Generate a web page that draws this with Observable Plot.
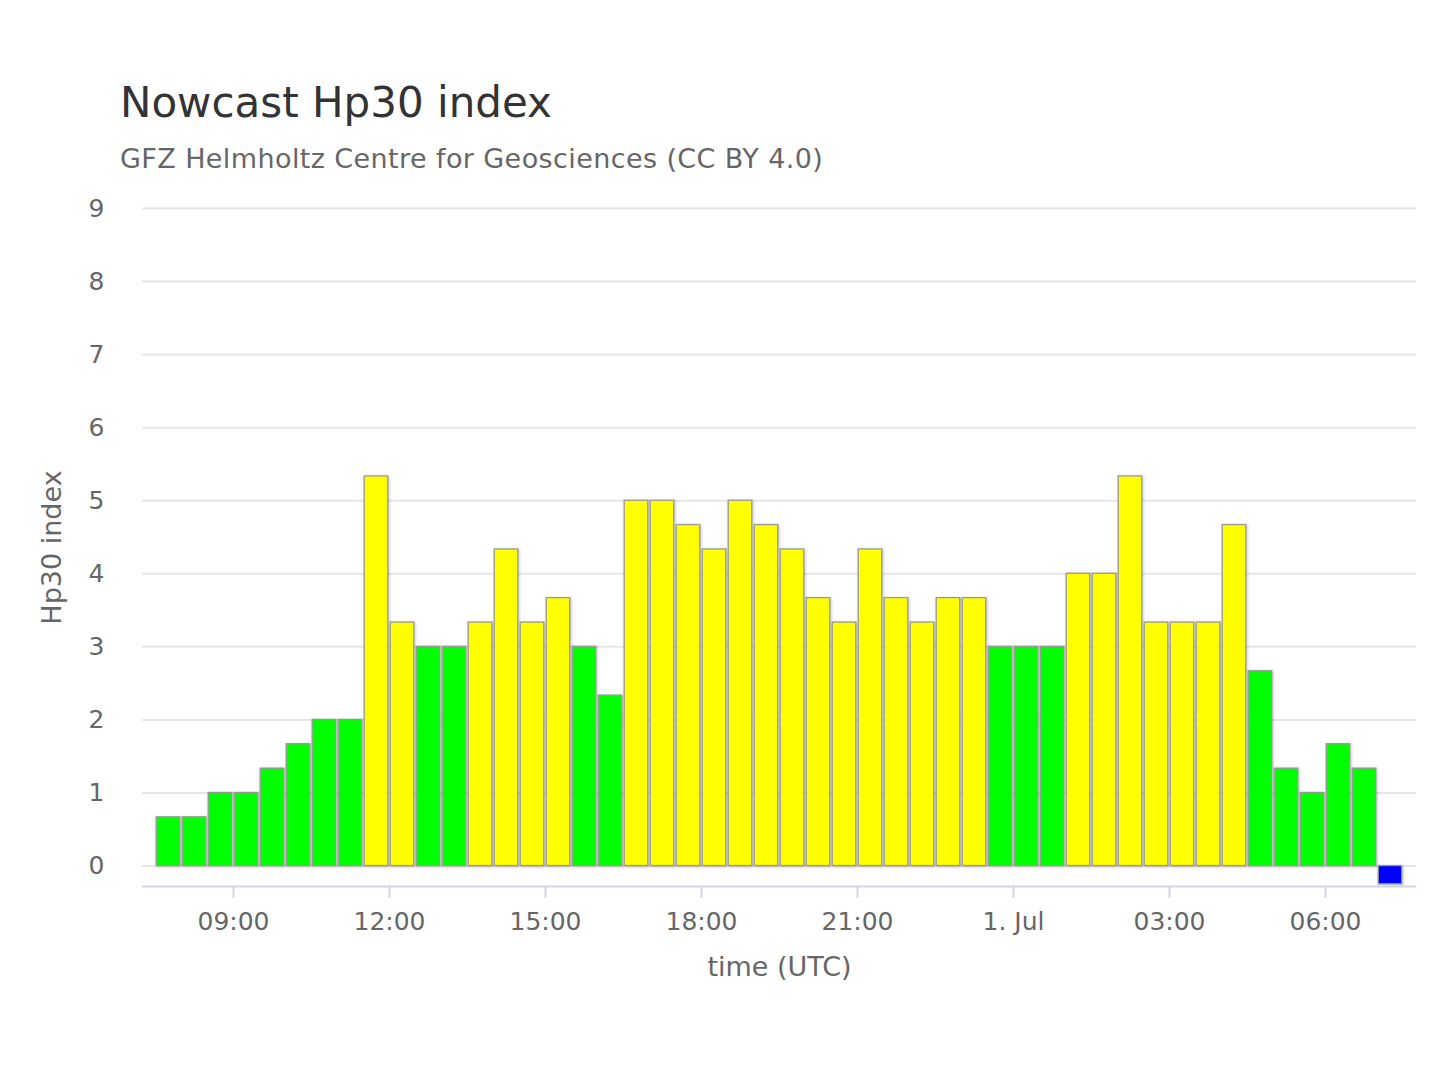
<!DOCTYPE html>
<html>
<head>
<meta charset="utf-8">
<script src="https://cdn.jsdelivr.net/npm/d3@7"></script>
<script src="https://cdn.jsdelivr.net/npm/@observablehq/plot@0.6"></script>
<style>
  html, body { margin: 0; padding: 0; background: #fff; }
  body { width: 1440px; height: 1080px; position: relative; overflow: hidden; font-family: "DejaVu Sans", sans-serif; }
  #title { position: absolute; left: 120px; top: 78px; font-size: 42px; color: #333; line-height: normal; white-space: nowrap; }
  #subtitle { position: absolute; left: 120px; top: 143px; font-size: 27px; letter-spacing: 0.4px; color: #666; line-height: normal; white-space: nowrap; }
  #chart { position: absolute; left: 0; top: 190px; }
</style>
</head>
<body>
<div id="title">Nowcast Hp30 index</div>
<div id="subtitle">GFZ Helmholtz Centre for Geosciences (CC BY 4.0)</div>
<div id="chart"></div>
<script>
// 30-minute interval start times (UTC)
const times = [
  "2024-06-30T07:30Z","2024-06-30T08:00Z","2024-06-30T08:30Z","2024-06-30T09:00Z",
  "2024-06-30T09:30Z","2024-06-30T10:00Z","2024-06-30T10:30Z","2024-06-30T11:00Z",
  "2024-06-30T11:30Z","2024-06-30T12:00Z","2024-06-30T12:30Z","2024-06-30T13:00Z",
  "2024-06-30T13:30Z","2024-06-30T14:00Z","2024-06-30T14:30Z","2024-06-30T15:00Z",
  "2024-06-30T15:30Z","2024-06-30T16:00Z","2024-06-30T16:30Z","2024-06-30T17:00Z",
  "2024-06-30T17:30Z","2024-06-30T18:00Z","2024-06-30T18:30Z","2024-06-30T19:00Z",
  "2024-06-30T19:30Z","2024-06-30T20:00Z","2024-06-30T20:30Z","2024-06-30T21:00Z",
  "2024-06-30T21:30Z","2024-06-30T22:00Z","2024-06-30T22:30Z","2024-06-30T23:00Z",
  "2024-06-30T23:30Z","2024-07-01T00:00Z","2024-07-01T00:30Z","2024-07-01T01:00Z",
  "2024-07-01T01:30Z","2024-07-01T02:00Z","2024-07-01T02:30Z","2024-07-01T03:00Z",
  "2024-07-01T03:30Z","2024-07-01T04:00Z","2024-07-01T04:30Z","2024-07-01T05:00Z",
  "2024-07-01T05:30Z","2024-07-01T06:00Z","2024-07-01T06:30Z","2024-07-01T07:00Z"
];
// Hp30 values (last one: nowcast placeholder drawn below zero)
const values = [
  0.667, 0.667, 1.0, 1.0, 1.333, 1.667, 2.0, 2.0,
  5.333, 3.333, 3.0, 3.0, 3.333, 4.333, 3.333, 3.667, 3.0, 2.333,
  5.0, 5.0, 4.667, 4.333, 5.0, 4.667, 4.333, 3.667, 3.333, 4.333, 3.667, 3.333, 3.667, 3.667,
  3.0, 3.0, 3.0, 4.0, 4.0, 5.333, 3.333, 3.333, 3.333, 4.667, 2.667, 1.333, 1.0, 1.667, 1.333,
  -0.25
];
// activity level per bar
const levels = [
  "quiet","quiet","quiet","quiet","quiet","quiet","quiet","quiet",
  "active","active","quiet","quiet","active","active","active","active","quiet","quiet",
  "active","active","active","active","active","active","active","active","active","active","active","active","active","active",
  "quiet","quiet","quiet","active","active","active","active","active","active","active","quiet","quiet","quiet","quiet","quiet",
  "pending"
];
const levelNames = ["quiet", "active", "pending"];
const levelColors = ["#00ff00", "#ffff00", "#0000ff"];

const yTicks = [0, 1, 2, 3, 4, 5, 6, 7, 8, 9];
const xTicks = ["2024-06-30T09:00Z","2024-06-30T12:00Z","2024-06-30T15:00Z","2024-06-30T18:00Z",
                "2024-06-30T21:00Z","2024-07-01T00:00Z","2024-07-01T03:00Z","2024-07-01T06:00Z"];
const xTickLabels = ["09:00","12:00","15:00","18:00","21:00","1. Jul","03:00","06:00"];
const xDomain = ["2024-06-30T07:15Z", "2024-07-01T07:45Z"];
const yDomain = [-0.28, 9];

const data = times.map((t, i) => {
  const start = new Date(t);
  return { x1: start, x2: d3.utcMinute.offset(start, 30), v: values[i], level: levels[i] };
});
const tickDates = xTicks.map(t => new Date(t));
const labelOf = new Map(tickDates.map((d, i) => [+d, xTickLabels[i]]));

const chart = Plot.plot({
  width: 1440,
  height: 820,
  marginLeft: 142,
  marginRight: 24,
  marginTop: 18,
  marginBottom: 124,
  style: { fontFamily: "DejaVu Sans, sans-serif", background: "#fff", overflow: "visible" },
  x: { type: "utc", domain: xDomain.map(d => new Date(d)) },
  y: { domain: yDomain },
  color: { domain: levelNames, range: levelColors },
  marks: [
    Plot.ruleY(yTicks, { stroke: "#e6e6e6", strokeWidth: 2 }),
    Plot.rectY(data, {
      x1: "x1", x2: "x2", y: "v", fill: "level",
      insetLeft: 1.2, insetRight: 1.2,
      stroke: "#999999", strokeWidth: 1.3
    }),
    Plot.ruleY([yDomain[0]], { stroke: "#ccd6eb", strokeWidth: 2 }),
    Plot.axisX(tickDates, {
      anchor: "bottom", tickSize: 12, tickPadding: 14,
      stroke: "#ccd6eb", strokeWidth: 2, fill: "#666", fontSize: 25,
      tickFormat: d => labelOf.get(+d), label: null
    }),
    Plot.axisY(yTicks, {
      anchor: "left", tickSize: 0, tickPadding: 38,
      fill: "#666", fontSize: 25, label: null, tickFormat: d => String(d)
    }),
    Plot.text(["time (UTC)"], {
      frameAnchor: "bottom", dy: 81, fontSize: 27, fill: "#666", lineAnchor: "middle"
    }),
    Plot.text(["Hp30 index"], {
      frameAnchor: "left", dx: -90, rotate: -90, fontSize: 27, fill: "#666",
      lineAnchor: "middle", textAnchor: "middle"
    })
  ]
});
document.getElementById("chart").appendChild(chart);
d3.select(chart).selectAll('g[aria-label="rect"] rect')
  .style("filter", "drop-shadow(1.5px 1.5px 1.5px rgba(0,0,0,0.22))");
</script>
</body>
</html>
